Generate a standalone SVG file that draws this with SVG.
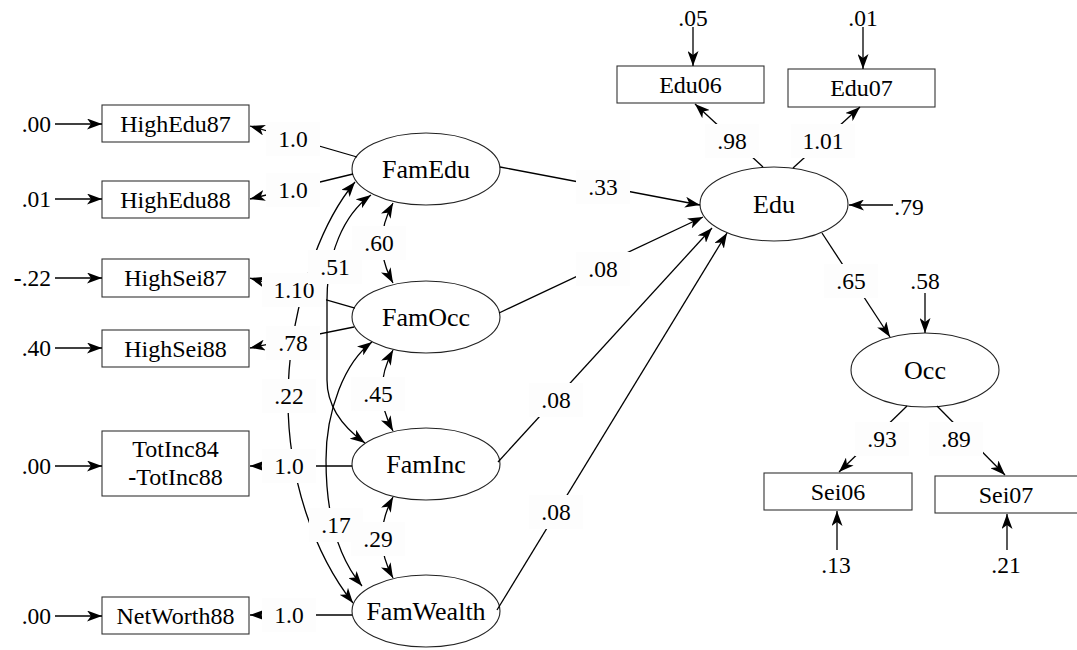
<svg xmlns="http://www.w3.org/2000/svg" width="1077" height="650" viewBox="0 0 1077 650">
<style>
text{font-family:"Liberation Serif","Times New Roman",serif;fill:#000}
.box{fill:#fff;stroke:#333;stroke-width:1.1}
.ell{fill:#fff;stroke:#222;stroke-width:1.1}
.nt{font-size:24px;text-anchor:middle}
.et{font-size:26px;text-anchor:middle}
.num{font-size:23.5px;text-anchor:middle}
.numr{font-size:23.5px;text-anchor:end}
.ln{fill:none;stroke:#000;stroke-width:1.3;marker-end:url(#ah)}
.cov{fill:none;stroke:#000;stroke-width:1.3;marker-end:url(#ah);marker-start:url(#ah)}
.bg{fill:#fdfdfd}
</style>
<defs>
<marker id="ah" viewBox="0 0 15 11" refX="15" refY="5.5" markerWidth="15" markerHeight="11" markerUnits="userSpaceOnUse" orient="auto-start-reverse"><path d="M0,0 L15,5.5 L0,11 L4,5.5 Z" fill="#000"/></marker>
</defs>
<rect width="1077" height="650" fill="#fff"/>

<!-- observed nodes -->
<g id="HighEdu87"><rect class="box" x="102" y="105" width="147" height="37"/><text class="nt" x="175.5" y="131.5">HighEdu87</text></g>
<g id="HighEdu88"><rect class="box" x="102" y="181" width="147" height="37"/><text class="nt" x="175.5" y="207.5">HighEdu88</text></g>
<g id="HighSei87"><rect class="box" x="102" y="259" width="147" height="38"/><text class="nt" x="175.5" y="286">HighSei87</text></g>
<g id="HighSei88"><rect class="box" x="102" y="330" width="147" height="37"/><text class="nt" x="175.5" y="356.5">HighSei88</text></g>
<g id="TotInc"><rect class="box" x="102" y="431" width="147" height="65"/><text class="nt" x="175.5" y="457">TotInc84</text><text class="nt" x="175.5" y="485"><tspan font-weight="bold">-</tspan>TotInc88</text></g>
<g id="NetWorth88"><rect class="box" x="102" y="597" width="147" height="37"/><text class="nt" x="175.5" y="623.5">NetWorth88</text></g>
<g id="Edu06"><rect class="box" x="617" y="66" width="147" height="37"/><text class="nt" x="690.5" y="92.5">Edu06</text></g>
<g id="Edu07"><rect class="box" x="788" y="69" width="147" height="38"/><text class="nt" x="861.5" y="96">Edu07</text></g>
<g id="Sei06"><rect class="box" x="764" y="473" width="148" height="37"/><text class="nt" x="838" y="499.5">Sei06</text></g>
<g id="Sei07"><rect class="box" x="935" y="476" width="150" height="37"/><text class="nt" x="1006" y="502.5">Sei07</text></g>

<!-- latent nodes -->
<g id="FamEdu"><ellipse class="ell" cx="426" cy="169" rx="74" ry="36"/><text class="et" x="426" y="178">FamEdu</text></g>
<g id="FamOcc"><ellipse class="ell" cx="426" cy="317" rx="74" ry="36"/><text class="et" x="426" y="326">FamOcc</text></g>
<g id="FamInc"><ellipse class="ell" cx="426" cy="464" rx="74" ry="36"/><text class="et" x="426" y="473">FamInc</text></g>
<g id="FamWealth"><ellipse class="ell" cx="426" cy="611" rx="74" ry="36"/><text class="et" x="426" y="620">FamWealth</text></g>
<g id="Edu"><ellipse class="ell" cx="774" cy="204" rx="74" ry="37"/><text class="et" x="774" y="213">Edu</text></g>
<g id="Occ"><ellipse class="ell" cx="925" cy="370" rx="74" ry="37"/><text class="et" x="925" y="379">Occ</text></g>

<!-- connectors -->
<g id="connectors">
<path class="ln" d="M55,124 L102,124"/>
<path class="ln" d="M55,199 L102,199"/>
<path class="ln" d="M55,278 L102,278"/>
<path class="ln" d="M55,348 L102,348"/>
<path class="ln" d="M55,466 L102,466"/>
<path class="ln" d="M55,616 L102,616"/>
<path class="ln" d="M357,157 L250,126"/>
<path class="ln" d="M353,174 L250,199"/>
<path class="ln" d="M355,308 L250,278"/>
<path class="ln" d="M354,327 L250,348"/>
<path class="ln" d="M352,466 L250,466"/>
<path class="ln" d="M352,615 L250,615"/>
<path class="cov" d="M393,203 Q371,243 393,283"/>
<path class="cov" d="M393,350 Q371,391 393,431"/>
<path class="cov" d="M393,497 Q371,538 393,578"/>
<path class="cov" d="M371,195 C343,215 327,255 327,300 L327,380 C327,405 340,425 365,443"/>
<path class="cov" d="M372,342 C345,362 326,410 326,460 S336,555 362,586"/>
<path class="cov" d="M355,182 C315,230 288,320 288,400 C288,480 315,555 353,603"/>
<path class="ln" d="M500,167 L700,205"/>
<path class="ln" d="M499,313 L703,217"/>
<path class="ln" d="M498,462 L712,228"/>
<path class="ln" d="M497,610 L727,233"/>
<path class="ln" d="M763,167 L695,104"/>
<path class="ln" d="M793,168 L860,107"/>
<path class="ln" d="M693,27 L693,66"/>
<path class="ln" d="M863,27 L863,69"/>
<path class="ln" d="M893,205 L849,205"/>
<path class="ln" d="M822,233 L890,337"/>
<path class="ln" d="M925,293 L925,333"/>
<path class="ln" d="M907,406 L839,472"/>
<path class="ln" d="M937,406 L1005,475"/>
<path class="ln" d="M837,550 L837,511"/>
<path class="ln" d="M1007,550 L1007,514"/>
</g>

<!-- connector labels -->
<g id="labels">
<rect class="bg" x="266" y="122" width="54" height="34"/><text class="num" x="293" y="147">1.0</text>
<rect class="bg" x="266" y="173" width="54" height="34"/><text class="num" x="293" y="198">1.0</text>
<rect class="bg" x="262" y="273" width="64" height="34"/><text class="num" x="294" y="298">1.10</text>
<rect class="bg" x="266" y="326" width="54" height="34"/><text class="num" x="293" y="351">.78</text>
<rect class="bg" x="262" y="379" width="54" height="34"/><text class="num" x="289" y="404">.22</text>
<rect class="bg" x="262" y="449" width="54" height="34"/><text class="num" x="289" y="474">1.0</text>
<rect class="bg" x="262" y="598" width="54" height="34"/><text class="num" x="289" y="623">1.0</text>
<rect class="bg" x="308" y="250" width="54" height="34"/><text class="num" x="335" y="275">.51</text>
<rect class="bg" x="309" y="508" width="54" height="34"/><text class="num" x="336" y="533">.17</text>
<rect class="bg" x="352" y="226" width="54" height="34"/><text class="num" x="379" y="251">.60</text>
<rect class="bg" x="351" y="377" width="54" height="34"/><text class="num" x="378" y="402">.45</text>
<rect class="bg" x="351" y="522" width="54" height="34"/><text class="num" x="378" y="547">.29</text>
<rect class="bg" x="576" y="170" width="54" height="34"/><text class="num" x="603" y="195">.33</text>
<rect class="bg" x="576" y="252" width="54" height="34"/><text class="num" x="603" y="277">.08</text>
<rect class="bg" x="529" y="383" width="54" height="34"/><text class="num" x="556" y="408">.08</text>
<rect class="bg" x="529" y="495" width="54" height="34"/><text class="num" x="556" y="520">.08</text>
<rect class="bg" x="705" y="124" width="54" height="34"/><text class="num" x="732" y="149">.98</text>
<rect class="bg" x="791" y="124" width="64" height="34"/><text class="num" x="823" y="149">1.01</text>
<rect class="bg" x="824" y="264" width="54" height="34"/><text class="num" x="851" y="289">.65</text>
<rect class="bg" x="855" y="422" width="54" height="34"/><text class="num" x="882" y="447">.93</text>
<rect class="bg" x="929" y="422" width="54" height="34"/><text class="num" x="956" y="447">.89</text>
<text class="num" x="693" y="26">.05</text>
<text class="num" x="863" y="26">.01</text>
<text class="num" x="909" y="215">.79</text>
<text class="num" x="925" y="289">.58</text>
<text class="num" x="836" y="573">.13</text>
<text class="num" x="1006" y="573">.21</text>
<text class="numr" x="51" y="132">.00</text>
<text class="numr" x="51" y="207">.01</text>
<text class="numr" x="51" y="286"><tspan font-weight="bold">-</tspan>.22</text>
<text class="numr" x="51" y="356">.40</text>
<text class="numr" x="51" y="474">.00</text>
<text class="numr" x="51" y="624">.00</text>
</g>
</svg>
